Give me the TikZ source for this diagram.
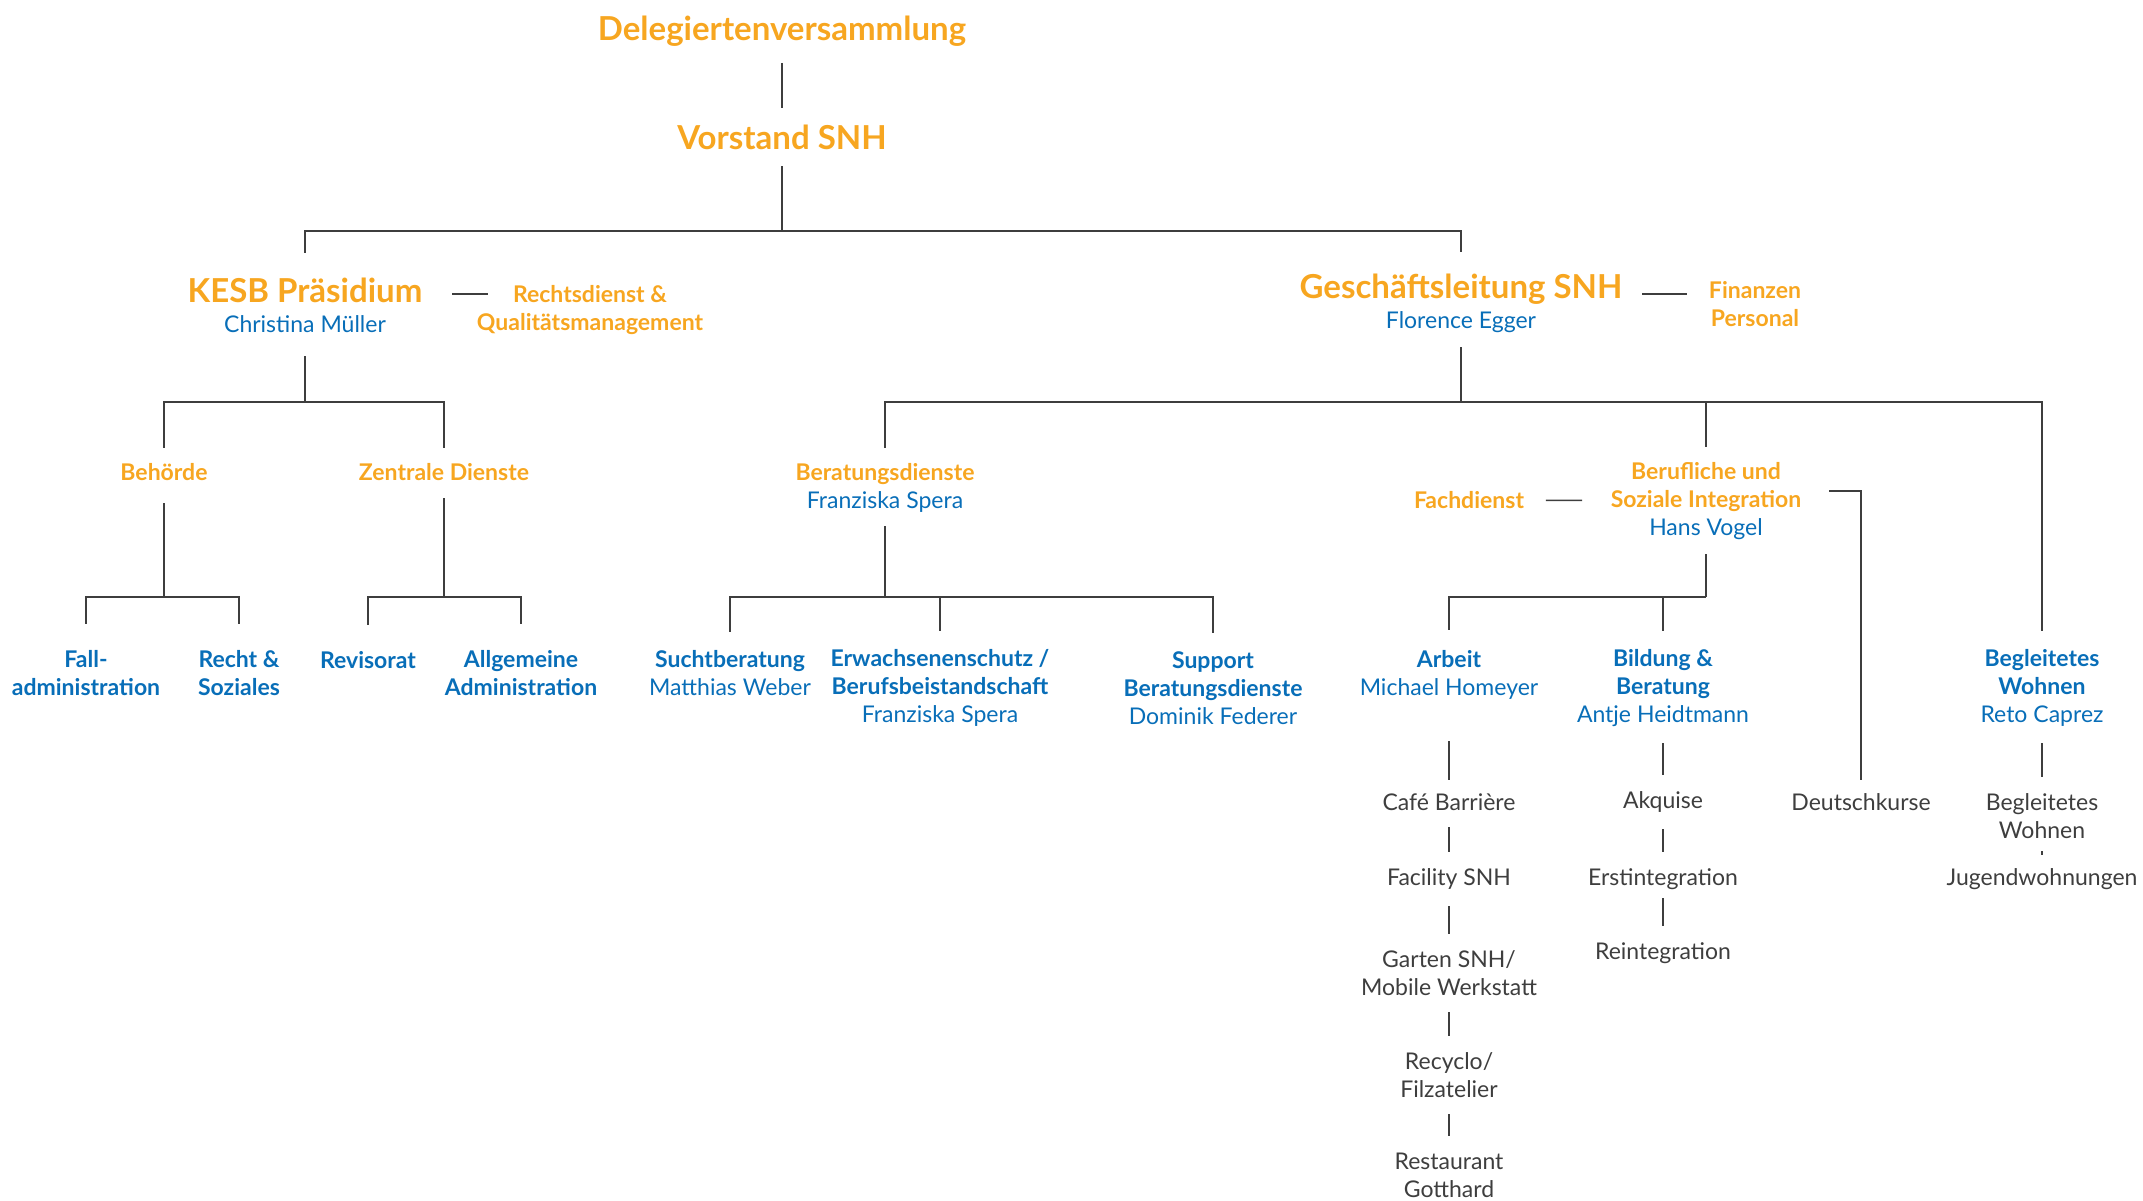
\documentclass[tikz,border=0pt]{standalone}
\usepackage{fontspec}
\setmainfont{Lato}
\definecolor{snhorange}{RGB}{247,166,32}
\definecolor{snhblue}{RGB}{8,110,184}
\definecolor{snhgray}{RGB}{62,62,62}
\newcommand{\who}[1]{{\fontsize{23}{28}\mdseries\selectfont\color{snhblue}#1}}

\begin{document}
\begin{tikzpicture}[x = 1pt, y = -1pt, color = snhgray, line width = 1.5pt,
  every node/.style = {align = center, inner sep = 0pt},
  big/.style = {font = \fontsize{33}{30}\bfseries\selectfont, text = snhorange},
  head/.style = {font = \fontsize{23}{28}\bfseries\selectfont, text = snhorange},
  unit/.style = {font = \fontsize{23}{28}\bfseries\selectfont, text = snhblue},
  item/.style = {font = \fontsize{23}{28}\selectfont, text = snhgray},
  link/.style = {shorten <= 16pt, shorten >= 16pt}]
  \useasboundingbox (0, 0) rectangle (2143, 1200);

  \node[big] (dv) at (782, 31) {Delegiertenversammlung};
  \node[big] (vs) at (782, 137) {Vorstand SNH};
  \node[big] (kesb) at (305, 305) {KESB Präsidium\\\who{Christina Müller}};
  \node[head] (rq) at (590, 310) {Rechtsdienst \&\\Qualitätsmanagement};
  \node[big] (gl) at (1461, 303) {Geschäftsleitung SNH\\\who{Florence Egger}};
  \node[head] (fp) at (1755, 304) {Finanzen\\Personal};

  \node[head] (beh) at (164, 472) {Behörde};
  \node[head] (zd) at (444, 472) {Zentrale Dienste};
  \node[head] (bd) at (885, 488) {Beratungsdienste\\\who{Franziska Spera}};
  \node[head] (bsi) at (1706, 501) {Berufliche und\\Soziale Integration\\\who{Hans Vogel}};
  \node[head] (fd) at (1469, 500) {Fachdienst};

  \node[unit] (fall) at (86, 673) {Fall-\\administration};
  \node[unit] (recht) at (239, 673) {Recht \&\\Soziales};
  \node[unit] (rev) at (368, 660) {Revisorat};
  \node[unit] (allg) at (521, 673) {Allgemeine\\Administration};
  \node[unit] (sucht) at (730, 673) {Suchtberatung\\\who{Matthias Weber}};
  \node[unit] (erw) at (940, 688) {Erwachsenenschutz /\\Berufsbeistandschaft\\\who{Franziska Spera}};
  \node[unit] (supp) at (1213, 688) {Support\\Beratungsdienste\\\who{Dominik Federer}};
  \node[unit] (arb) at (1449, 675) {Arbeit\\\who{Michael Homeyer}};
  \node[unit] (bild) at (1663, 688) {Bildung \&\\Beratung\\\who{Antje Heidtmann}};
  \node[unit] (bw) at (2042, 688) {Begleitetes\\Wohnen\\\who{Reto Caprez}};

  \node[item] (cafe) at (1449, 802) {Café Barrière};
  \node[item] (fac) at (1449, 879) {Facility SNH};
  \node[item] (gart) at (1449, 973) {Garten SNH/\\Mobile Werkstatt};
  \node[item] (recy) at (1449, 1075) {Recyclo/\\Filzatelier};
  \node[item] (rest) at (1449, 1175) {Restaurant\\Gotthard};
  \node[item] (akq) at (1663, 802) {Akquise};
  \node[item] (erst) at (1663, 879) {Erstintegration};
  \node[item] (rein) at (1663, 953) {Reintegration};
  \node[item] (deu) at (1861, 802) {Deutschkurse};
  \node[item] (bw2) at (2042, 816) {Begleitetes\\Wohnen};
  \node[item] (jug) at (2042, 879) {Jugendwohnungen};

  \coordinate (bus0) at (782, 231);
  \coordinate (bus1) at (305, 402);
  \coordinate (bus2) at (1461, 402);
  \coordinate (bus3) at (164, 597);
  \coordinate (bus4) at (444, 597);
  \coordinate (bus5) at (885, 597);
  \coordinate (bus6) at (1706, 597);

  \draw[link] (dv) -- (vs);
  \draw[shorten <= 16pt] (vs) -- (bus0);
  \draw[shorten <= 24pt, shorten >= 21pt] (kesb) |- (bus0) -| (gl);
  \draw[shorten <= 29pt, shorten >= -12pt] ([yshift = 11pt]kesb.east) -- ([yshift = 16pt]rq.west);
  \draw[shorten <= 19pt, shorten >= 21pt] ([yshift = 9pt]gl.east) -- ([yshift = 10pt]fp.west);

  \draw[shorten <= 23pt] (kesb) -- (bus1);
  \draw[shorten <= 15pt, shorten >= 15pt] (beh) |- (bus1) -| (zd);
  \draw[shorten <= 14pt] (gl) -- (bus2);
  \draw[shorten <= 15pt, shorten >= 18pt] (bd) |- (bus2) -| (bw);
  \draw[shorten <= 15pt] (bsi) -- (bsi |- bus2);
  \draw[shorten <= 21pt, shorten >= 28pt] (fd) -- (bsi);
  \draw[shorten <= 27pt, shorten >= 13pt] ([yshift = 10pt]bsi.east) -| (deu);

  \draw[shorten <= 22pt] (beh) -- (bus3);
  \draw[shorten <= 26pt, shorten >= 26pt] (fall) |- (bus3) -| (recht);
  \draw[shorten <= 17pt] (zd) -- (bus4);
  \draw[shorten <= 26pt, shorten >= 26pt] (rev) |- (bus4) -| (allg);
  \draw[shorten <= 13pt] (bd) -- (bus5);
  \draw[shorten <= 18pt, shorten >= 18pt] (sucht) |- (bus5) -| (supp);
  \draw[shorten <= 18pt] (erw) -- (erw |- bus5);
  \draw[shorten <= 14pt] (bsi) -- (bus6);
  \draw[shorten <= 20pt] (arb) |- (bus6);
  \draw[shorten <= 18pt] (bild) -- (bild |- bus6);

  \draw[shorten <= 41pt, shorten >= 13pt] (arb) -- (cafe);
  \draw[link] (cafe) -- (fac);
  \draw[link] (fac) -- (gart);
  \draw[link] (gart) -- (recy);
  \draw[link] (recy) -- (rest);
  \draw[link] (bild) -- (akq);
  \draw[link] (akq) -- (erst);
  \draw[link, shorten <= 8pt] (erst) -- (rein);
  \draw[link] (bw) -- (bw2);
  \draw[shorten <= 12pt, shorten >= 13pt] (bw2) -- (jug);
\end{tikzpicture}
\end{document}
